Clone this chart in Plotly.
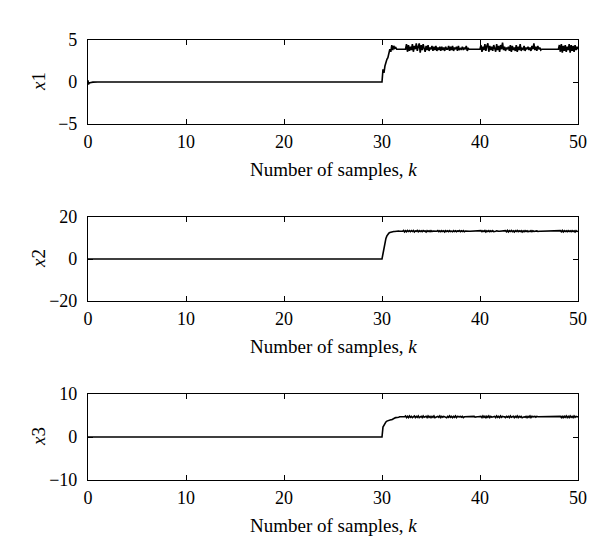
import plotly.graph_objects as go

# ---------------- data ----------------
# start-up part (explicit samples), then uniform samples 30.0 .. 50.0 (step 0.1)
k_pre = [0.0, 0.05, 0.1, 0.2, 0.3, 0.5, 1.0]
x1_pre = [0.2, -0.3, -0.15, -0.1, -0.05, -0.02, 0.0]
x2_pre = [0.0, 0.0, 0.0, 0.0, 0.0, 0.0, 0.0]
x3_pre = [0.0, 0.0, 0.0, 0.0, 0.0, 0.0, 0.0]

k_post = [round(30 + i / 10, 1) for i in range(201)]

x1_post = [
    0, 1.5, 1.1, 1.9, 2.5, 2.7, 2.9, 3.3, 3.9, 3.6,
    4.4, 3.8, 4.3, 4.0, 4.1, 3.9, 3.9, 3.9, 3.9, 3.9,
    3.9, 3.9, 3.9, 3.9, 3.9, 4.5, 3.6, 4.4, 3.7, 4.2,
    3.8, 4.5, 3.6, 4.3, 3.9, 4.6, 3.7, 4.2, 4.6, 3.5,
    4.4, 3.8, 4.5, 4.0, 3.6, 4.3, 3.8, 4.4, 3.7, 4.1,
    3.9, 4.3, 3.7, 4.2, 3.8, 4.3, 3.7, 4.1, 3.8, 4.2,
    3.7, 4.2, 3.8, 4.1, 3.7, 4.2, 3.9, 3.9, 4.3, 3.7,
    4.2, 3.8, 4.3, 3.7, 4.1, 3.9, 4.2, 3.7, 4.3, 3.8,
    4.0, 3.9, 4.2, 3.8, 4.1, 3.9, 4.3, 3.7, 4.0, 3.9,
    3.9, 3.9, 3.9, 3.9, 3.9, 3.9, 3.9, 3.9, 3.9, 3.9,
    3.9, 4.4, 3.6, 4.2, 3.8, 4.5, 3.7, 4.3, 4.6, 3.6,
    4.3, 3.8, 4.2, 3.7, 4.4, 4.0, 3.6, 4.5, 3.8, 4.3,
    3.6, 4.4, 3.9, 4.7, 3.8, 4.2, 3.7, 4.1, 3.9, 4.2,
    3.7, 4.4, 3.6, 4.3, 3.8, 4.1, 3.7, 4.4, 3.6, 4.2,
    3.8, 4.5, 3.7, 4.0, 3.9, 4.3, 3.7, 4.1, 3.9, 4.2,
    3.8, 4.1, 3.7, 4.3, 3.9, 4.6, 3.8, 4.2, 3.7, 4.3,
    3.9, 4.1, 3.8, 3.9, 3.9, 3.9, 3.9, 3.9, 3.9, 3.9,
    3.9, 3.9, 3.9, 3.9, 3.9, 3.9, 3.9, 3.9, 3.9, 3.9,
    3.9, 4.4, 3.6, 4.5, 3.5, 4.3, 3.7, 4.4, 3.6, 4.2,
    3.8, 4.5, 3.5, 4.4, 3.7, 4.3, 3.6, 4.4, 3.8, 4.2,
    3.9,
]

x2_post = [
    0, 2.5, 5.5, 8.0, 9.8, 11.0, 11.8, 12.3, 12.6, 12.8,
    12.9, 13.0, 13.1, 13.1, 13.2, 13.2, 13.1, 13.3, 13.2, 13.2,
    13.2, 13.2, 13.6, 12.9, 13.5, 13.0, 13.6, 13.1, 13.5, 13.0,
    13.5, 13.1, 13.6, 12.9, 13.4, 13.2, 13.6, 13.0, 13.5, 13.1,
    13.4, 13.0, 13.5, 13.2, 13.4, 12.9, 13.5, 13.1, 13.4, 13.0,
    13.5, 13.1, 13.3, 13.2, 13.2, 13.2, 13.2, 13.5, 13.0, 13.4,
    13.0, 13.5, 13.1, 13.4, 12.9, 13.5, 13.1, 13.4, 13.0, 13.5,
    13.1, 13.3, 13.0, 13.5, 13.1, 13.4, 13.0, 13.4, 13.2, 13.5,
    13.0, 13.4, 13.1, 13.5, 13.0, 13.3, 13.2, 13.2, 13.2, 13.2,
    13.2, 13.2, 13.2, 13.2, 13.2, 13.2, 13.2, 13.2, 13.2, 13.2,
    13.2, 13.5, 13.0, 13.4, 13.1, 13.6, 12.9, 13.4, 13.1, 13.5,
    13.0, 13.4, 13.1, 13.5, 13.0, 13.3, 13.2, 13.4, 13.1, 13.2,
    13.2, 13.2, 13.2, 13.2, 13.2, 13.2, 13.5, 13.0, 13.6, 12.9,
    13.5, 13.1, 13.6, 13.0, 13.4, 12.9, 13.5, 13.1, 13.6, 13.0,
    13.4, 13.1, 13.5, 12.9, 13.4, 13.0, 13.5, 13.1, 13.4, 13.0,
    13.3, 13.1, 13.5, 13.0, 13.4, 13.1, 13.3, 13.2, 13.4, 13.1,
    13.3, 13.2, 13.2, 13.2, 13.2, 13.2, 13.2, 13.2, 13.2, 13.2,
    13.2, 13.2, 13.2, 13.2, 13.2, 13.2, 13.2, 13.2, 13.2, 13.2,
    13.2, 13.2, 13.5, 13.0, 13.6, 12.9, 13.5, 13.1, 13.4, 13.0,
    13.5, 13.1, 13.4, 13.0, 13.5, 13.1, 13.4, 12.9, 13.5, 13.1,
    13.2,
]

x3_post = [
    0, 2.3, 2.8, 3.2, 3.5, 3.7, 3.8, 3.9, 3.9, 4.0,
    4.0, 4.2, 4.2, 4.4, 4.5, 4.5, 4.6, 4.6, 4.7, 4.7,
    4.7, 4.7, 4.7, 4.7, 4.9, 4.5, 4.8, 4.5, 4.9, 4.6,
    4.8, 4.5, 4.7, 4.9, 4.5, 4.8, 4.6, 4.9, 4.5, 4.7,
    4.8, 4.5, 4.9, 4.6, 4.7, 4.8, 4.5, 4.9, 4.6, 4.8,
    4.5, 4.8, 4.6, 4.9, 4.5, 4.7, 4.7, 4.8, 4.6, 4.9,
    4.5, 4.8, 4.6, 4.8, 4.7, 4.7, 4.5, 4.8, 4.6, 4.9,
    4.6, 4.8, 4.5, 4.8, 4.6, 4.9, 4.5, 4.8, 4.7, 4.7,
    4.8, 4.6, 4.8, 4.5, 4.7, 4.7, 4.7, 4.7, 4.7, 4.7,
    4.7, 4.7, 4.7, 4.7, 4.8, 4.6, 4.7, 4.7, 4.7, 4.7,
    4.7, 4.8, 4.5, 4.9, 4.6, 4.8, 4.4, 4.8, 4.6, 4.9,
    4.5, 4.8, 4.6, 4.7, 4.7, 4.8, 4.5, 4.9, 4.6, 4.8,
    4.5, 4.9, 4.6, 4.8, 4.7, 4.7, 4.5, 4.8, 4.6, 4.8,
    4.5, 4.9, 4.6, 4.7, 4.8, 4.5, 4.8, 4.6, 4.9, 4.5,
    4.8, 4.6, 4.8, 4.5, 4.7, 4.7, 4.6, 4.8, 4.5, 4.8,
    4.6, 4.9, 4.5, 4.8, 4.7, 4.7, 4.8, 4.6, 4.8, 4.7,
    4.7, 4.7, 4.7, 4.7, 4.7, 4.7, 4.7, 4.7, 4.7, 4.7,
    4.7, 4.7, 4.7, 4.7, 4.7, 4.7, 4.7, 4.7, 4.7, 4.7,
    4.7, 4.7, 4.8, 4.5, 4.9, 4.4, 4.8, 4.6, 4.9, 4.5,
    4.8, 4.5, 4.9, 4.6, 4.8, 4.5, 4.9, 4.6, 4.8, 4.7,
    4.7,
]

x_ticks = [0, 10, 20, 30, 40, 50]
y_ticks = [[-5, 0, 5], [-20, 0, 20], [-10, 0, 10]]
y_ranges = [[-5, 5], [-20, 20], [-10, 10]]
y_names = ["<i>x</i>1", "<i>x</i>2", "<i>x</i>3"]
x_title = "Number of samples, <i>k</i>"

# ---------------- figure ----------------
FONT = "Liberation Serif, Times New Roman, serif"
series = [x1_pre + x1_post, x2_pre + x2_post, x3_pre + x3_post]
k_all = k_pre + k_post

# plot area in px (within 600x550)
L, R, T, B = 80, 570, 32, 472
W, H = 600, 550
panels_px = [(32, 116), (209, 293), (386, 472)]

fig = go.Figure()
layout = dict(
    width=W, height=H,
    margin=dict(l=L, r=W - R, t=T, b=H - B),
    paper_bgcolor="white", plot_bgcolor="white",
    showlegend=False,
    font=dict(family=FONT, color="black", size=18),
)
annotations = []
ph = B - T
for i, (vals, (top, bot)) in enumerate(zip(series, panels_px)):
    n = "" if i == 0 else str(i + 1)
    fig.add_trace(go.Scatter(
        x=k_all, y=vals, mode="lines",
        line=dict(color="black", width=1.6),
        xaxis="x" + n, yaxis="y" + n, hoverinfo="skip",
    ))
    d0 = 1 - (bot - T) / ph
    d1 = 1 - (top - T) / ph
    axis_common = dict(
        showline=True, linecolor="black", linewidth=1.2, mirror="ticks",
        ticks="inside", ticklen=5, tickwidth=1, tickcolor="black",
        showgrid=False, zeroline=False,
        tickfont=dict(family=FONT, size=18, color="black"),
    )
    layout["xaxis" + n] = dict(
        axis_common, domain=[0, 1], range=[0, 50], tickvals=x_ticks,
        anchor="y" + n, ticklabelstandoff=1,
    )
    layout["yaxis" + n] = dict(
        axis_common, domain=[d0, d1], range=y_ranges[i], tickvals=y_ticks[i],
        ticktext=[("\u2212" + str(-v)) if v < 0 else str(v) for v in y_ticks[i]],
        anchor="x" + n, ticklabelstandoff=6,
    )
    annotations.append(dict(
        text=x_title, xref="paper", yref="paper",
        x=0.5, y=1 - (bot + 45 - T) / ph, xanchor="center", yanchor="middle",
        showarrow=False, font=dict(family=FONT, size=19, color="black"),
    ))
    annotations.append(dict(
        text=y_names[i], xref="paper", yref="paper",
        x=(30 - L) / (R - L), y=1 - ((top + bot) / 2 - T) / ph,
        xanchor="center", yanchor="middle", textangle=-90,
        showarrow=False, font=dict(family=FONT, size=19, color="black"),
    ))
layout["annotations"] = annotations
fig.update_layout(**layout)
fig.write_html("out.html")
